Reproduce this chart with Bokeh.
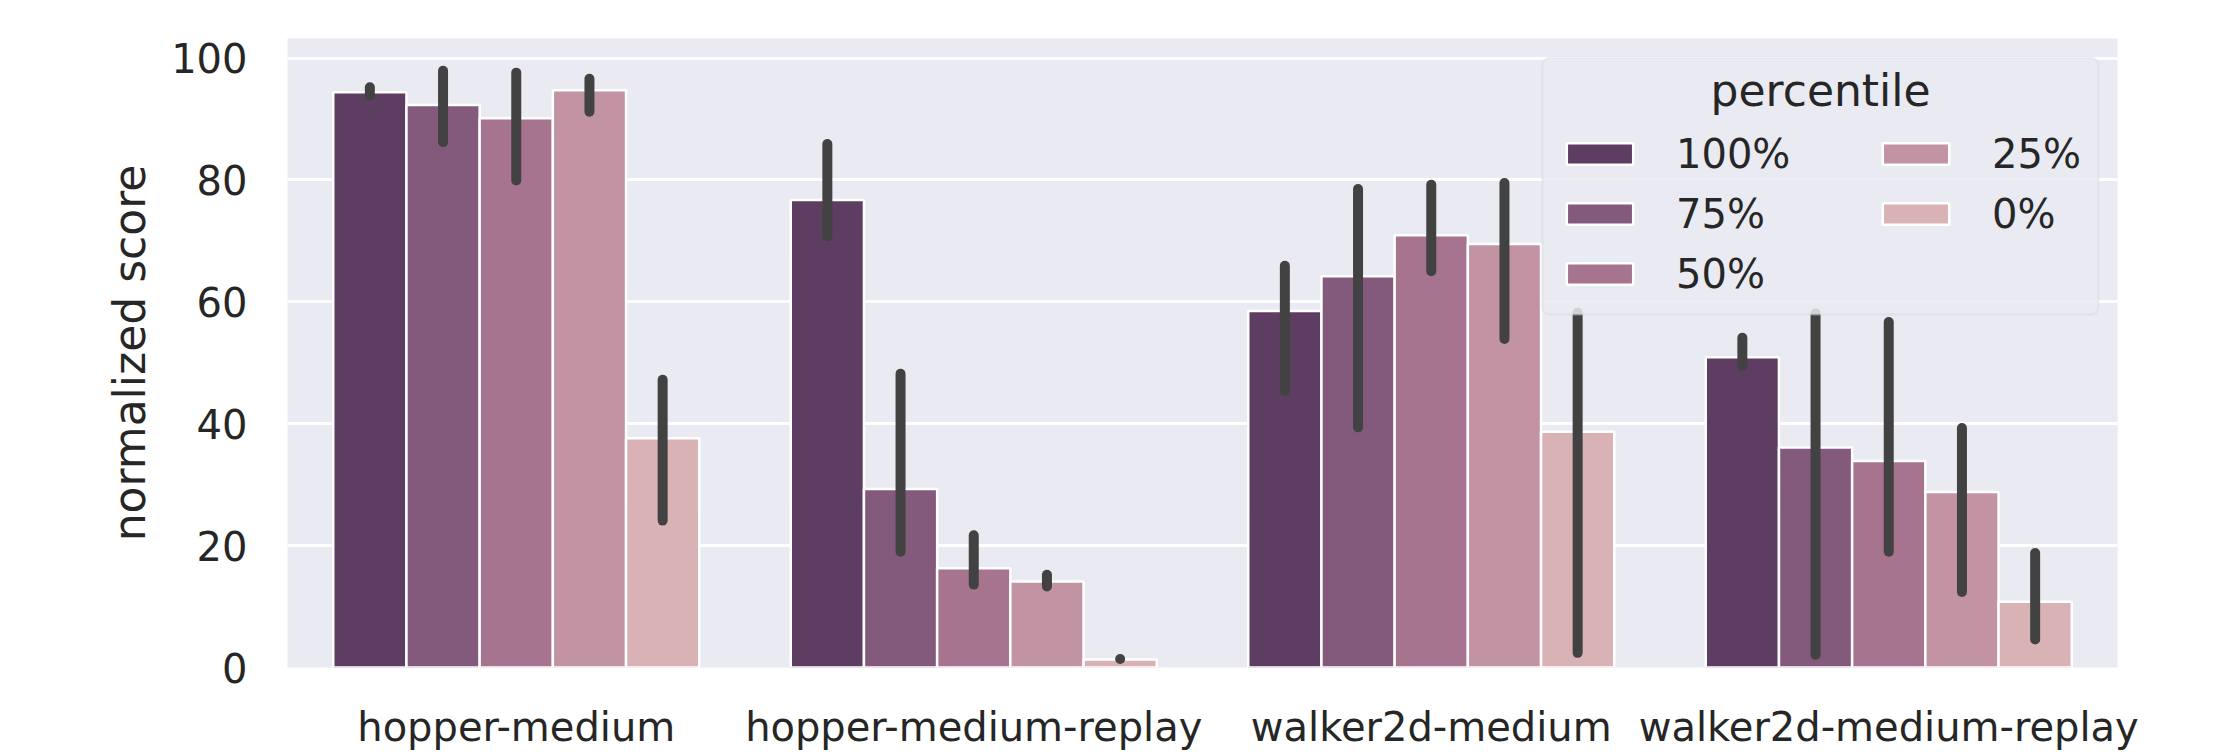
from bokeh.plotting import figure
from bokeh.models import (ColumnDataSource, FactorRange, Range1d, FixedTicker,
                          Legend, LegendItem, BoxAnnotation, Label)
from bokeh.transform import dodge
from bokeh.embed import file_html
from bokeh.resources import INLINE

# ---- data ----
groups = ["hopper-medium", "hopper-medium-replay", "walker2d-medium", "walker2d-medium-replay"]
percentiles = ["100%", "75%", "50%", "25%", "0%"]

mean_100 = [94.4, 76.7, 58.5, 50.9]
mean_75 = [92.3, 29.3, 64.2, 36.1]
mean_50 = [90.1, 16.3, 70.9, 33.9]
mean_25 = [94.7, 14.1, 69.5, 28.8]
mean_0 = [37.6, 1.3, 38.7, 10.8]

hi_100 = [95.2, 85.9, 65.9, 54.1]
hi_75 = [97.9, 48.2, 78.5, 58.1]
hi_50 = [97.6, 21.7, 79.2, 56.7]
hi_25 = [96.6, 15.2, 79.5, 39.3]
hi_0 = [47.2, 1.4, 58.2, 18.8]

lo_100 = [93.8, 70.7, 45.4, 49.5]
lo_75 = [86.2, 19.0, 39.4, 2.1]
lo_50 = [79.9, 13.6, 65.0, 19.0]
lo_25 = [91.2, 13.3, 53.9, 12.4]
lo_0 = [24.1, 1.4, 2.4, 4.6]

y_ticks = [0, 20, 40, 60, 80, 100]
legend_title = "percentile"

means = [mean_100, mean_75, mean_50, mean_25, mean_0]
his = [hi_100, hi_75, hi_50, hi_25, hi_0]
los = [lo_100, lo_75, lo_50, lo_25, lo_0]

colors = ["#5e3d63", "#845a7c", "#a6748f", "#c293a2", "#d8b2b5"]
offsets = [-0.32, -0.16, 0.0, 0.16, 0.32]

FONT = "DejaVu Sans"
TXT = "#262626"

p = figure(width=2239, height=752, x_range=FactorRange(*groups), y_range=Range1d(0, 103.2),
           output_backend="svg", toolbar_location=None,
           min_border_left=287, min_border_right=122, min_border_top=38, min_border_bottom=83)
p.background_fill_color = "#eaeaf2"
p.border_fill_color = "white"
p.outline_line_color = None

data = {"group": groups}
for i, pc in enumerate(percentiles):
    data[f"m{i}"] = means[i]
    data[f"h{i}"] = his[i]
    data[f"l{i}"] = los[i]
src = ColumnDataSource(data)

renderers = []
for i, pc in enumerate(percentiles):
    r = p.vbar(x=dodge("group", offsets[i], range=p.x_range), top=f"m{i}", width=0.16,
               source=src, fill_color=colors[i], line_color="white", line_width=2.5)
    renderers.append(r)

for i, pc in enumerate(percentiles):
    xd = dodge("group", offsets[i], range=p.x_range)
    p.segment(x0=xd, y0=f"l{i}", x1=xd, y1=f"h{i}", source=src,
              line_color="#424242", line_width=10, line_cap="round")

# axes
p.yaxis.ticker = FixedTicker(ticks=y_ticks)
for ax in (p.xaxis[0], p.yaxis[0]):
    ax.axis_line_color = None
    ax.major_tick_line_color = None
    ax.minor_tick_line_color = None
    ax.major_tick_out = 0
    ax.major_tick_in = 0
    ax.major_label_text_font = FONT
    ax.major_label_text_font_size = "40px"
    ax.major_label_text_color = TXT
p.yaxis.major_label_standoff = 40
p.xaxis.major_label_standoff = 36
p.yaxis.axis_label = "normalized score"
p.yaxis.axis_label_text_font = FONT
p.yaxis.axis_label_text_font_size = "44px"
p.yaxis.axis_label_text_font_style = "normal"
p.yaxis.axis_label_text_color = TXT
p.yaxis.axis_label_standoff = 13

p.xgrid.grid_line_color = None
p.ygrid.grid_line_color = "white"
p.ygrid.grid_line_width = 2.8

# legend frame (box in data space of the axes, upper right)
box = BoxAnnotation(left=2.743, right=3.958, bottom=57.9, top=100.0,
                    fill_color="#eaeaf2", fill_alpha=0.85,
                    line_color="#cfcfd6", line_width=2.5, border_radius=7)
p.add_layout(box)

title = Label(x=3.351, y=94.6, text=legend_title, text_align="center",
              text_baseline="alphabetic", text_font=FONT, text_font_size="44px",
              text_color=TXT)
p.add_layout(title)

def style_legend(lg):
    lg.label_text_font = FONT
    lg.label_text_font_size = "40px"
    lg.label_text_color = TXT
    lg.glyph_width = 83
    lg.glyph_height = 27
    lg.label_standoff = 35
    lg.label_height = 47
    lg.spacing = 13
    lg.padding = 0
    lg.margin = 0
    lg.background_fill_alpha = 0
    lg.border_line_color = None

legA = Legend(items=[LegendItem(label=percentiles[i], renderers=[renderers[i]]) for i in range(3)],
              location=(1271, 370))
style_legend(legA)
p.add_layout(legA, "center")

legB = Legend(items=[LegendItem(label=percentiles[i], renderers=[renderers[i]]) for i in range(3, 5)],
              location=(1587, 430))
style_legend(legB)
p.add_layout(legB, "center")

open("out.html", "w").write(file_html(p, INLINE))
